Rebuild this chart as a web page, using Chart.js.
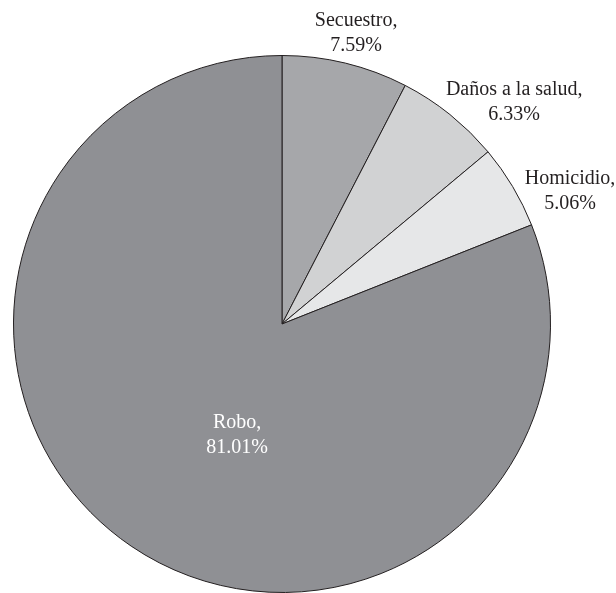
<!DOCTYPE html>
<html>
<head>
<meta charset="utf-8">
<script src="https://cdn.jsdelivr.net/npm/chart.js@4.4.1/dist/chart.umd.min.js"></script>
<style>
  html, body { margin: 0; padding: 0; background: #fff; }
  canvas { display: block; }
</style>
</head>
<body>
<canvas id="grafico" width="616" height="593"></canvas>
<script>
// datos del gráfico
var categorias = ['Secuestro', 'Daños a la salud', 'Homicidio', 'Robo'];
var porcentajes = [7.59, 6.33, 5.06, 81.01];
var colores = ['#a6a7aa', '#d1d2d3', '#e6e7e8', '#8f9094'];
var dentro = [false, false, false, true];

// etiquetas "Nombre, xx.xx%" dibujadas sobre cada sector
var etiquetasPlugin = {
    id: 'etiquetas',
    afterDatasetsDraw: function (chart, args, opts) {
        var ctx = chart.ctx;
        var meta = chart.getDatasetMeta(0);
        ctx.save();
        ctx.font = '20px "Liberation Serif", "DejaVu Serif", serif';
        ctx.textAlign = 'center';
        ctx.textBaseline = 'middle';
        meta.data.forEach(function (arc, i) {
            var p = arc.getProps(['x', 'y', 'startAngle', 'endAngle', 'outerRadius'], true);
            var mid = (p.startAngle + p.endAngle) / 2;
            var linea1 = categorias[i] + ',';
            var linea2 = porcentajes[i].toFixed(2) + '%';
            var hw = Math.max(ctx.measureText(linea1).width, ctx.measureText(linea2).width) / 2;
            var hh = opts.lineHeight;
            var cx, cy;
            if (dentro[i]) {
                cx = p.x + Math.cos(mid) * p.outerRadius * 0.45;
                cy = p.y + Math.sin(mid) * p.outerRadius * 0.45;
                ctx.fillStyle = '#ffffff';
            } else {
                var r = p.outerRadius + 4;
                cx = p.x + Math.cos(mid) * r + Math.cos(mid) * hw;
                cy = p.y + Math.sin(mid) * r + Math.sin(mid) * hh;
                ctx.fillStyle = '#231f20';
            }
            var n = opts.nudge[i] || [0, 0];
            cx += n[0];
            cy += n[1];
            ctx.fillText(linea1, cx, cy - hh / 2);
            ctx.fillText(linea2, cx, cy + hh / 2);
        });
        ctx.restore();
    }
};

new Chart(document.getElementById('grafico').getContext('2d'), {
    type: 'pie',
    data: {
        labels: categorias,
        datasets: [{
            data: porcentajes,
            backgroundColor: colores,
            borderColor: '#231f20',
            borderWidth: 1
        }]
    },
    options: {
        responsive: false,
        animation: false,
        layout: { padding: { left: 13, right: 65, top: 55, bottom: 0 } },
        plugins: {
            legend: { display: false },
            tooltip: { enabled: false },
            etiquetas: { lineHeight: 25, nudge: [[0, -2], [19, 10], [15, 19], [23, 11]] }
        }
    },
    plugins: [etiquetasPlugin]
});
</script>
</body>
</html>
